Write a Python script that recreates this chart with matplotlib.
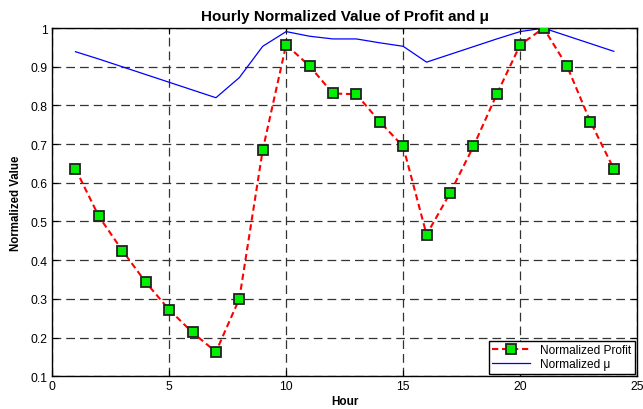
import matplotlib
matplotlib.use("Agg")
import matplotlib.pyplot as plt

plt.rcParams['font.family'] = ['Liberation Sans', 'DejaVu Sans']

hours = list(range(1, 25))
profit = [0.636, 0.513, 0.425, 0.343, 0.272, 0.213, 0.163, 0.300, 0.685, 0.957,
          0.902, 0.831, 0.829, 0.758, 0.694, 0.466, 0.573, 0.694, 0.829, 0.957,
          1.000, 0.902, 0.758, 0.636]
mu = [0.939, 0.92, 0.90, 0.88, 0.86, 0.84, 0.82, 0.872, 0.953, 0.991,
      0.979, 0.972, 0.972, 0.962, 0.953, 0.912, 0.932, 0.952, 0.972, 0.991,
      1.000, 0.980, 0.960, 0.940]
xticks = [0, 5, 10, 15, 20, 25]
yticks = [0.1, 0.2, 0.3, 0.4, 0.5, 0.6, 0.7, 0.8, 0.9, 1.0]
yticklabels = ['0.1', '0.2', '0.3', '0.4', '0.5', '0.6', '0.7', '0.8', '0.9', '1']

fig = plt.figure(figsize=(6.43, 4.10), dpi=100)
ax = fig.add_axes([0.081, 0.080, 0.910, 0.849])

ax.plot(hours, profit, linestyle=(0, (3, 1.8)), color='red', linewidth=1.5,
        marker='s', markersize=7.2, markerfacecolor='#00ee00',
        markeredgecolor='#222222', markeredgewidth=1.3, label='Normalized Profit', zorder=3)
ax.plot(hours, mu, color='blue', linewidth=0.9, label='Normalized μ', zorder=2)

ax.set_xlim(0, 25)
ax.set_ylim(0.1, 1.0)
ax.set_xticks(xticks)
ax.set_yticks(yticks)
ax.set_yticklabels(yticklabels)
ax.tick_params(direction='in', labelsize=8.8, length=4, width=0.8, top=True, right=True, pad=3)
ax.grid(True, color='#333333', linestyle=(0, (7, 4)), linewidth=0.9)
for s in ax.spines.values():
    s.set_linewidth(1.0)

ax.set_title('Hourly Normalized Value of Profit and μ', fontsize=11, fontweight='bold', pad=6)
ax.set_xlabel('Hour', fontsize=8.5, fontweight='bold', labelpad=2)
ax.set_ylabel('Normalized Value', fontsize=8.3, fontweight='bold', labelpad=6)

leg = ax.legend(loc='lower right', fontsize=8.6, fancybox=False, framealpha=1,
                edgecolor='black', borderpad=0.3, handlelength=3.2, labelspacing=0.15,
                borderaxespad=0.2)
leg.get_frame().set_linewidth(1.0)

fig.savefig('out.png', dpi=100)
